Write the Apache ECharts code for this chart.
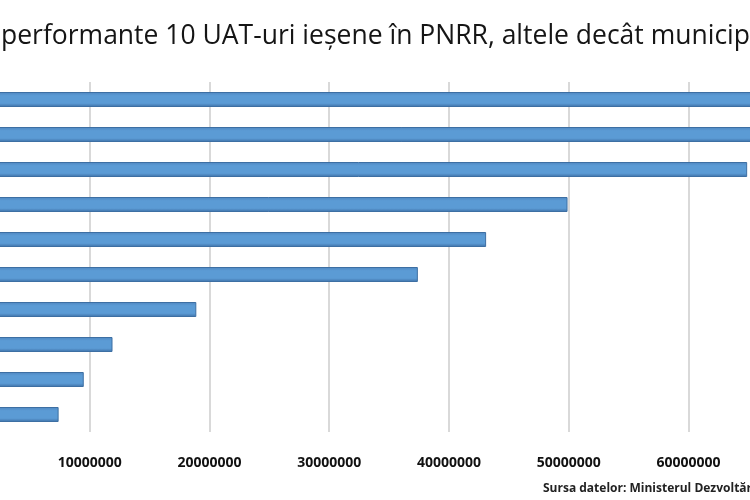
<!DOCTYPE html><html><head><meta charset="utf-8"><script src="https://cdn.jsdelivr.net/npm/echarts@6/dist/echarts.min.js"></script></head><body style="margin:0;overflow:hidden;width:750px;height:500px"><div id="c" style="width:1000px;height:500px;margin-left:-37px"></div><script>
const categories=['UAT 10','UAT 9','UAT 8','UAT 7','UAT 6','UAT 5','UAT 4','UAT 3','UAT 2','UAT 1'];
const values=[7400000,9500000,11900000,18900000,37400000,43100000,49900000,64900000,72000000,75000000];
const tickLabels=['0','10000000','20000000','30000000','40000000','50000000','60000000','70000000','80000000'];
const chart=echarts.init(document.getElementById('c'));
chart.setOption({
 animation:false,
 graphic:[
  {type:'text',x:38,y:23,style:{text:'Cele mai ',align:'right',font:'26.5px "Open Sans"',fill:'#151515'}},
  {type:'text',x:38,y:23,style:{text:'performante 10 UAT-uri ieșene în PNRR, altele decât municipiul',align:'left',font:'26.5px "Open Sans"',fill:'#151515'}},
  {type:'text',left:580,top:483,style:{text:'Sursa datelor: Ministerul Dezvoltării',font:'bold 12px "Open Sans"',fill:'#222'}}],
 grid:{left:0,right:32,top:82,bottom:68},
 xAxis:{type:'value',min:0,max:80000000,interval:10000000,
  axisLabel:{formatter:v=>tickLabels[v/10000000],fontFamily:'Open Sans',fontWeight:'bold',fontSize:14,color:'#111',margin:24},
  splitLine:{lineStyle:{color:'#d9d9d9',width:2}},axisLine:{show:false},axisTick:{show:false}},
 yAxis:{type:'category',data:categories,axisLabel:{show:false},axisLine:{show:false},axisTick:{show:false}},
 series:[{type:'bar',data:values,barWidth:15,
  itemStyle:{borderColor:'#3d6fa3',borderWidth:1,color:new echarts.graphic.LinearGradient(0,0,0,1,[{offset:0,color:'#4f86c0'},{offset:0.25,color:'#5b9bd5'},{offset:0.75,color:'#5b9bd5'},{offset:1,color:'#3e6fa5'}])}}]
});
</script></body></html>
